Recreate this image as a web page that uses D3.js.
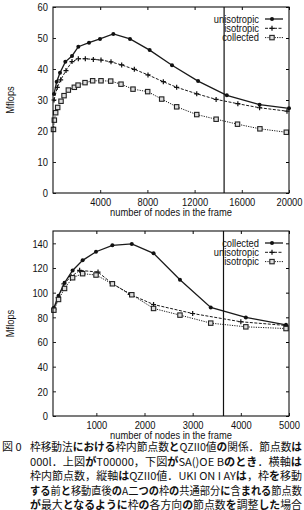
<!DOCTYPE html>
<html>
<head>
<meta charset="utf-8">
<script src="https://cdn.jsdelivr.net/npm/d3@7"></script>
<style>
  body { margin: 0; background: #fff; }
  svg { display: block; }
</style>
</head>
<body>
<svg id="chart" width="304" height="510"></svg>
<script>
// top plot: 3 series (x = nodes in the frame, y = Mflops)
const topLabels = ['unisotropic', 'isotropic', 'collected'];
const topUniX = [85, 313, 593, 1045, 1610, 2147, 3051, 3983, 5113, 6526, 8191, 10085, 12295, 14730, 17507, 20000];
const topUniY = [31.9, 35.9, 38.8, 42.3, 44.2, 47.2, 48.5, 49.7, 51.3, 49.7, 46.1, 41.2, 36.1, 31.5, 28.5, 27.3];
const topIsoX = [85, 367, 650, 1102, 1610, 2147, 2740, 3418, 4068, 4915, 5820, 6893, 8051, 9350, 10480, 12181, 13824, 15665, 17507, 19830];
const topIsoY = [30.0, 34.1, 36.5, 39.5, 42.4, 43.3, 43.3, 43.1, 42.9, 42.3, 41.3, 39.9, 38.1, 35.9, 34.1, 32.0, 30.2, 28.8, 27.5, 26.4];
const topColX = [40, 113, 227, 397, 680, 935, 1300, 1808, 2125, 2712, 3360, 4068, 4890, 5763, 6780, 8025, 9210, 10480, 12181, 13824, 15637, 17535, 19773];
const topColY = [20.5, 23.5, 25.9, 27.6, 29.6, 31.4, 33.2, 34.1, 34.8, 35.6, 36.2, 36.2, 36.1, 35.1, 33.5, 32.7, 30.3, 27.8, 25.3, 23.8, 22.2, 20.7, 19.6];
const topXTicks = [4000, 8000, 12000, 16000, 20000];
const topYTicks = [0, 10, 20, 30, 40, 50, 60];
const topMark = 14500;

// bottom plot
const botLabels = ['collected', 'unisotropic', 'isotropic'];
const botColX = [118, 215, 340, 507, 715, 993, 1333, 1736, 2188, 2736, 3375, 4104, 4938];
const botColY = [87.7, 97.5, 108, 118, 126.2, 133.2, 138.4, 139.5, 131.9, 110.5, 88.0, 79.9, 73.9];
const botUniX = [118, 208, 326, 479, 653, 1035, 1326, 1701, 2188, 3000, 4000, 4938];
const botUniY = [86.4, 95.9, 107.2, 113, 118.1, 116.7, 107.5, 98.6, 90.4, 83.1, 76.4, 73.4];
const botIsoX = [118, 215, 340, 507, 715, 993, 1333, 1736, 2188, 2736, 3375, 4104, 4938];
const botIsoY = [85.8, 94.5, 103.4, 112.1, 115.4, 114.3, 107.2, 98.3, 87.2, 81.8, 75.3, 72.3, 70.9];
const botXTicks = [1000, 2000, 3000, 4000, 5000];
const botYTicks = [0, 20, 40, 60, 80, 100, 120, 140];
const botMark = 3640;

const captionLines = [
  '枠移動法における枠内節点数とQZII0値の関係．節点数は',
  '000l．上図がT00000，下図がSA()OE Bのとき．横軸は',
  '枠内節点数，縦軸はQZII0値．UKI ON I AYは，枠を移動',
  'する前と移動直後のA二つの枠の共通部分に含まれる節点数',
  'が最大となるように枠の各方向の節点数を調整した場合'
];

const svg = d3.select('#chart');
const FONT = 'Liberation Sans, Arial, sans-serif';
const SX = 0.85; // text looks squeezed horizontally

function label(g, x, y, str, anchor, rot) {
  return g.append('text')
    .attr('transform', `translate(${x},${y})` + (rot ? ` rotate(${rot})` : '') + ` scale(${SX},1)`)
    .attr('text-anchor', anchor)
    .attr('font-family', FONT)
    .attr('font-size', 11)
    .attr('fill', '#111')
    .text(str);
}

// styles by series slot
const styles = [
  { dash: null, width: 1.3, mark: 'dot' },
  { dash: '3,1.5', width: 1, mark: 'plus' },
  { dash: '1.2,1.2', width: 1, mark: 'square' }
];

function marker(g, kind, x, y) {
  if (kind === 'dot') {
    g.append('circle').attr('cx', x).attr('cy', y).attr('r', 2).attr('fill', '#111');
  } else if (kind === 'plus') {
    g.append('path').attr('d', `M${x - 2.5},${y}H${x + 2.5}M${x},${y - 2.5}V${y + 2.5}`)
      .attr('stroke', '#111').attr('stroke-width', 1.2);
  } else {
    g.append('rect').attr('x', x - 2.2).attr('y', y - 2.2).attr('width', 4.4).attr('height', 4.4)
      .attr('fill', '#ddd').attr('stroke', '#222').attr('stroke-width', 1.1);
  }
}

function drawChart(o) {
  const g = svg.append('g');
  const x = d3.scaleLinear().domain(o.xDom).range([53, 289]);
  const y = d3.scaleLinear().domain(o.yDom).range([o.bottom, o.top]);

  // bottom axis, ticks pointing in
  const ax = g.append('g').attr('transform', `translate(0,${o.bottom})`)
    .call(d3.axisBottom(x).tickValues(o.xTicks).tickFormat(d3.format('d'))
      .tickSizeInner(-3).tickSizeOuter(0).tickPadding(0));
  ax.select('.domain').remove();
  ax.selectAll('line').attr('stroke', '#222');
  ax.selectAll('text').attr('y', 0).attr('dy', 0)
    .attr('transform', `translate(0,13) scale(${SX},1)`)
    .attr('font-family', FONT).attr('font-size', 11).attr('fill', '#111');

  const axt = g.append('g').attr('transform', `translate(0,${o.top})`)
    .call(d3.axisTop(x).tickValues(o.xTicks).tickSizeInner(-3).tickSizeOuter(0).tickFormat(''));
  axt.select('.domain').remove();

  const ay = g.append('g').attr('transform', 'translate(53,0)')
    .call(d3.axisLeft(y).tickValues(o.yTicks).tickSizeInner(-3).tickSizeOuter(0).tickPadding(0));
  ay.select('.domain').remove();
  ay.selectAll('line').attr('stroke', '#222');
  ay.selectAll('text').attr('x', 0).attr('dy', '0.35em')
    .attr('transform', `translate(-5,0) scale(${SX},1)`)
    .attr('font-family', FONT).attr('font-size', 11).attr('fill', '#111');

  const ayr = g.append('g').attr('transform', 'translate(289,0)')
    .call(d3.axisRight(y).tickValues(o.yTicks).tickSizeInner(-3).tickSizeOuter(0).tickFormat(''));
  ayr.select('.domain').remove();

  // series
  const line = d3.line().x(d => x(d[0])).y(d => y(d[1]));
  o.series.forEach((s, i) => {
    const st = styles[i];
    const pts = s.xs.map((v, k) => [v, s.ys[k]]);
    g.append('path').datum(pts).attr('d', line)
      .attr('fill', 'none').attr('stroke', '#1a1a1a')
      .attr('stroke-width', st.width)
      .attr('stroke-dasharray', st.dash);
    pts.forEach(p => marker(g, st.mark, x(p[0]), y(p[1])));
  });

  // legend
  o.labels.forEach((lab, i) => {
    const ly = o.top + 12 + i * 9.3;
    label(g, 259, ly + 3.5, lab, 'end');
    const st = styles[i];
    g.append('line').attr('x1', 265).attr('x2', 283).attr('y1', ly).attr('y2', ly)
      .attr('stroke', '#1a1a1a').attr('stroke-width', st.width).attr('stroke-dasharray', st.dash);
    marker(g, st.mark, 272, ly);
  });

  // vertical marker line
  g.append('line').attr('x1', x(o.mark)).attr('x2', x(o.mark))
    .attr('y1', o.top).attr('y2', o.bottom)
    .attr('stroke', '#111').attr('stroke-width', 1.2);

  // frame
  g.append('rect').attr('x', 53).attr('y', o.top).attr('width', 236).attr('height', o.bottom - o.top)
    .attr('fill', 'none').attr('stroke', '#111').attr('stroke-width', 1.1);

  label(g, 171, o.bottom + 23, 'number of nodes in the frame', 'middle');
  label(g, 14, (o.top + o.bottom) / 2, 'Mflops', 'middle', -90);
}

drawChart({
  top: 7, bottom: 193, xDom: [0, 20000], yDom: [0, 60],
  xTicks: topXTicks, yTicks: topYTicks, mark: topMark, labels: topLabels,
  series: [{ xs: topUniX, ys: topUniY }, { xs: topIsoX, ys: topIsoY }, { xs: topColX, ys: topColY }]
});

drawChart({
  top: 231, bottom: 416, xDom: [100, 5000], yDom: [0, 150],
  xTicks: botXTicks, yTicks: botYTicks, mark: botMark, labels: botLabels,
  series: [{ xs: botColX, ys: botColY }, { xs: botUniX, ys: botUniY }, { xs: botIsoX, ys: botIsoY }]
});

// caption; hiragana come out heavier in the original
const cap = svg.append('g').attr('font-family', 'Noto Sans CJK JP, sans-serif').attr('font-size', 11).attr('fill', '#111');
cap.append('text').attr('x', 2).attr('y', 451).text('図 0');
captionLines.forEach((ln, i) => {
  const t = cap.append('text').attr('x', 30).attr('y', 451 + i * 14.5)
    .attr('textLength', 272).attr('lengthAdjust', 'spacingAndGlyphs');
  ln.split(/([\u3040-\u309f]+)/).filter(s => s).forEach(part => {
    t.append('tspan').attr('font-weight', /[\u3040-\u309f]/.test(part) ? 'bold' : null).text(part);
  });
});
</script>
</body>
</html>
